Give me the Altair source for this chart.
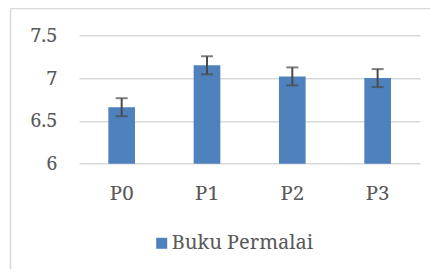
import altair as alt
import pandas as pd

categories = ["P0", "P1", "P2", "P3"]
values = [6.66, 7.15, 7.02, 7.00]
errors = [0.105, 0.105, 0.105, 0.105]
series = "Buku Permalai"
y_ticks = [6, 6.5, 7, 7.5]

df = pd.DataFrame({
    "cat": categories,
    "val": values,
    "lo": [v - e for v, e in zip(values, errors)],
    "hi": [v + e for v, e in zip(values, errors)],
    "series": [series] * len(categories),
})

FONT = "Noto Serif"
TXT = "#595959"
W, H = 341.3, 128.4

xs = alt.X("cat:N", sort=categories, title=None,
           scale=alt.Scale(paddingInner=0.6875, paddingOuter=0.34375),
           axis=alt.Axis(labelAngle=0, ticks=False, tickSize=0, domain=False,
                         labelFont=FONT, labelFontSize=20.5, labelColor=TXT,
                         labelBaseline="alphabetic", labelPadding=36))
ys = alt.Y("val:Q", title=None,
           scale=alt.Scale(domain=[6, 7.5], nice=False, zero=False),
           axis=alt.Axis(values=y_ticks, format="~g", ticks=False, tickSize=0, domain=False,
                         labelFont=FONT, labelFontSize=20, labelColor=TXT,
                         labelPadding=22, gridColor="#d9d9d9", gridWidth=1.5))

base = alt.Chart(df)

bars = base.mark_bar(clip=True).encode(
    x=xs, y=ys,
    color=alt.Color("series:N", title=None,
                    scale=alt.Scale(range=["#4f81bd"]),
                    legend=alt.Legend(orient="none", legendX=72.7, legendY=198,
                                      symbolType="square", symbolSize=121,
                                      symbolStrokeWidth=0, labelFont=FONT,
                                      labelFontSize=20, labelColor=TXT,
                                      labelOffset=0, padding=0)),
)

err = base.mark_rule(color="#4a4a4a", strokeWidth=2).encode(
    x=alt.X("cat:N", sort=categories), y="lo:Q", y2="hi:Q")
caps_hi = base.mark_tick(color="#4a4a4a", thickness=2, size=12).encode(
    x=alt.X("cat:N", sort=categories), y="hi:Q")
caps_lo = base.mark_tick(color="#4a4a4a", thickness=2, size=12).encode(
    x=alt.X("cat:N", sort=categories), y="lo:Q")

frame = alt.Data(values=[{"k": 1}])
left_border = alt.Chart(frame).mark_rule(color="#d9d9d9", strokeWidth=1.5).encode(
    x=alt.value(-68.5), y=alt.value(-26.8), y2=alt.value(240))
top_border = alt.Chart(frame).mark_rule(color="#d9d9d9", strokeWidth=1.5).encode(
    x=alt.value(-68.5), x2=alt.value(360), y=alt.value(-26.8))

chart = alt.layer(left_border, top_border, bars, err, caps_hi, caps_lo).properties(
    width=W, height=H,
    autosize=alt.AutoSizeParams(type="none"),
    padding={"left": 71, "top": 27.3, "right": 9.7, "bottom": 105},
    background="white",
).configure_view(stroke=None)

chart.save("out.html", embed_options={"renderer": "svg", "actions": False})
